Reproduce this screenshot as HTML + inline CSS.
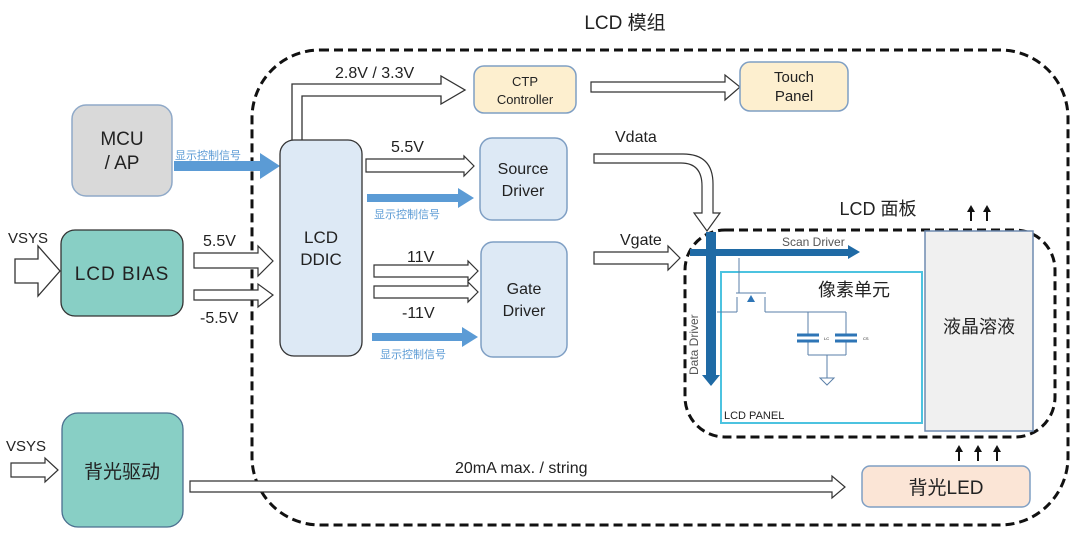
<!DOCTYPE html>
<html><head><meta charset="utf-8"><style>
html,body{margin:0;padding:0;background:#fff;}
svg{display:block;}
text{font-family:"Liberation Sans","Noto Sans CJK SC",sans-serif;fill:#222;}
</style></head><body>
<svg width="1080" height="538" viewBox="0 0 1080 538" xmlns="http://www.w3.org/2000/svg">
<defs>
<g id="up"><line x1="0" y1="0" x2="0" y2="-12" stroke="#111" stroke-width="2"/><path d="M-4 -9 L0 -16 L4 -9 Z" fill="#111"/></g>
</defs>
<!-- outer dashed -->
<rect x="252" y="50" width="816" height="475" rx="68" fill="none" stroke="#111" stroke-width="3" stroke-dasharray="9,5"/>
<text x="625" y="29" font-size="19" text-anchor="middle">LCD 模组</text>

<!-- MCU -->
<rect x="72" y="105" width="100" height="91" rx="14" fill="#d9d9d9" stroke="#8fa9c8" stroke-width="1.5"/>
<text x="122" y="145" font-size="19" text-anchor="middle">MCU</text>
<text x="122" y="169" font-size="19" text-anchor="middle">/ AP</text>
<text x="175" y="159" font-size="11" style="fill:#5b9bd5">显示控制信号</text>
<path d="M174 161 L260 161 L260 153 L280 166 L260 179 L260 171 L174 171 Z" fill="#5b9bd5"/>

<!-- LCD BIAS -->
<path d="M15 259 L38 259 L38 246 L60 271 L38 296 L38 283 L15 283 Z" fill="#fff" stroke="#333" stroke-width="1.3"/>
<text x="8" y="243" font-size="15">VSYS</text>
<rect x="61" y="230" width="122" height="86" rx="14" fill="#88cfc5" stroke="#333" stroke-width="1.3"/>
<text x="122" y="280" font-size="19" text-anchor="middle" letter-spacing="1">LCD BIAS</text>
<text x="203" y="246" font-size="16">5.5V</text>
<path d="M194 253 L258 253 L258 246 L273 261 L258 276 L258 268 L194 268 Z" fill="#fff" stroke="#333" stroke-width="1.2"/>
<path d="M194 290 L258 290 L258 284 L273 295 L258 307 L258 300 L194 300 Z" fill="#fff" stroke="#333" stroke-width="1.2"/>
<text x="200" y="323" font-size="16">-5.5V</text>

<!-- DDIC -->
<path d="M292 140 L292 84 L441 84 L441 76 L465 90 L441 104 L441 96 L302 96 L302 140" fill="#fff" stroke="#333" stroke-width="1.3"/>
<text x="335" y="78" font-size="16">2.8V / 3.3V</text>
<rect x="280" y="140" width="82" height="216" rx="14" fill="#dde9f5" stroke="#333" stroke-width="1.3"/>
<text x="321" y="243" font-size="17" text-anchor="middle">LCD</text>
<text x="321" y="265" font-size="17" text-anchor="middle">DDIC</text>

<!-- CTP / Touch -->
<rect x="474" y="66" width="102" height="47" rx="10" fill="#fdefcf" stroke="#7f9fc4" stroke-width="1.5"/>
<text x="525" y="86" font-size="13" text-anchor="middle">CTP</text>
<text x="525" y="104" font-size="13" text-anchor="middle">Controller</text>
<path d="M591 82 L725 82 L725 75 L740 87 L725 100 L725 92 L591 92 Z" fill="#fff" stroke="#333" stroke-width="1.2"/>
<rect x="740" y="62" width="108" height="49" rx="10" fill="#fdefcf" stroke="#7f9fc4" stroke-width="1.5"/>
<text x="794" y="82" font-size="15" text-anchor="middle">Touch</text>
<text x="794" y="101" font-size="15" text-anchor="middle">Panel</text>

<!-- Source -->
<text x="391" y="152" font-size="16">5.5V</text>
<path d="M366 159 L464 159 L464 156 L474 166 L464 176 L464 172 L366 172 Z" fill="#fff" stroke="#333" stroke-width="1.2"/>
<path d="M367 194 L458 194 L458 188 L474 198 L458 208 L458 202 L367 202 Z" fill="#5b9bd5"/>
<text x="374" y="218" font-size="11" style="fill:#5b9bd5">显示控制信号</text>
<rect x="480" y="138" width="87" height="82" rx="12" fill="#dde9f5" stroke="#7f9fc4" stroke-width="1.5"/>
<text x="523" y="174" font-size="16" text-anchor="middle">Source</text>
<text x="523" y="196" font-size="16" text-anchor="middle">Driver</text>

<!-- Gate -->
<text x="407" y="262" font-size="16">11V</text>
<path d="M374 265 L468 265 L468 261 L478 271 L468 281 L468 277 L374 277 Z" fill="#fff" stroke="#333" stroke-width="1.2"/>
<path d="M374 286 L468 286 L468 282 L478 292 L468 302 L468 298 L374 298 Z" fill="#fff" stroke="#333" stroke-width="1.2"/>
<text x="402" y="318" font-size="16">-11V</text>
<path d="M372 333 L462 333 L462 327 L478 337 L462 347 L462 341 L372 341 Z" fill="#5b9bd5"/>
<text x="380" y="358" font-size="11" style="fill:#5b9bd5">显示控制信号</text>
<rect x="481" y="242" width="86" height="115" rx="12" fill="#dde9f5" stroke="#7f9fc4" stroke-width="1.5"/>
<text x="524" y="294" font-size="16" text-anchor="middle">Gate</text>
<text x="524" y="316" font-size="16" text-anchor="middle">Driver</text>

<!-- Vdata / Vgate -->
<text x="615" y="142" font-size="16">Vdata</text>
<path d="M594 154 L683 154 Q713 154 713 184 L713 213 L720 213 L707 231 L694 213 L702 213 L702 186 Q702 163 681 163 L594 163 Z" fill="#fff" stroke="#333" stroke-width="1.2"/>
<text x="620" y="245" font-size="16">Vgate</text>
<path d="M594 252 L668 252 L668 246 L680 258 L668 270 L668 264 L594 264 Z" fill="#fff" stroke="#333" stroke-width="1.2"/>

<!-- LCD panel -->
<rect x="685" y="230" width="370" height="207" rx="40" fill="none" stroke="#111" stroke-width="3" stroke-dasharray="9,5"/>
<text x="878" y="215" font-size="18" text-anchor="middle">LCD 面板</text>
<rect x="721" y="272" width="201" height="151" fill="#fff" stroke="#4cc3e0" stroke-width="2"/>
<text x="724" y="419" font-size="11" fill="#333">LCD PANEL</text>
<text x="818" y="296" font-size="18">像素单元</text>
<g stroke="#5a7fa8" stroke-width="1" fill="none">
<line x1="739" y1="258" x2="739" y2="293"/>
<line x1="736" y1="293" x2="766" y2="293"/>
<line x1="737" y1="297" x2="737" y2="312"/><line x1="765" y1="297" x2="765" y2="312"/>
<line x1="717" y1="312" x2="737" y2="312"/>
<line x1="765" y1="312" x2="846" y2="312"/>
<line x1="808" y1="312" x2="808" y2="335"/><line x1="846" y1="312" x2="846" y2="335"/>
<line x1="808" y1="341" x2="808" y2="355"/><line x1="846" y1="341" x2="846" y2="355"/>
<line x1="808" y1="355" x2="846" y2="355"/>
<line x1="827" y1="355" x2="827" y2="378"/>
<path d="M820 378 L834 378 L827 385 Z"/>
</g>
<g stroke="#2e75b6" stroke-width="3"><line x1="797" y1="335" x2="819" y2="335"/><line x1="797" y1="341" x2="819" y2="341"/><line x1="835" y1="335" x2="857" y2="335"/><line x1="835" y1="341" x2="857" y2="341"/></g>
<path d="M747 302 L751 295 L755 302 Z" fill="#2e75b6"/>
<text x="824" y="340" font-size="4" fill="#555">LC</text><text x="863" y="340" font-size="4" fill="#555">CS</text>
<path d="M690 249 L848 249 L848 245 L860 252 L848 259 L848 256 L690 256 Z" fill="#1f6aa5"/>
<path d="M706 232 L716 232 L716 375 L720 375 L711 386 L702 375 L706 375 Z" fill="#1f6aa5"/>
<text x="782" y="246" font-size="12" style="fill:#555">Scan Driver</text>
<text transform="translate(698,375) rotate(-90)" font-size="12" style="fill:#555">Data Driver</text>

<rect x="925" y="231" width="108" height="200" fill="#f0f0f0" stroke="#6f8bb0" stroke-width="1.5"/>
<text x="979" y="333" font-size="18" text-anchor="middle">液晶溶液</text>
<use href="#up" x="971" y="221"/><use href="#up" x="987" y="221"/>
<use href="#up" x="959" y="461"/><use href="#up" x="978" y="461"/><use href="#up" x="997" y="461"/>

<!-- backlight -->
<text x="6" y="451" font-size="15">VSYS</text>
<path d="M11 463 L45 463 L45 458 L58 470 L45 482 L45 477 L11 477 Z" fill="#fff" stroke="#333" stroke-width="1.2"/>
<rect x="62" y="413" width="121" height="114" rx="16" fill="#88cfc5" stroke="#4a6f8f" stroke-width="1.3"/>
<text x="122" y="478" font-size="19" text-anchor="middle">背光驱动</text>
<text x="455" y="473" font-size="16">20mA max. / string</text>
<path d="M190 481 L832 481 L832 476 L845 487 L832 498 L832 492 L190 492 Z" fill="#fff" stroke="#333" stroke-width="1.2"/>
<rect x="862" y="466" width="168" height="41" rx="8" fill="#fbe5d6" stroke="#7f9fc4" stroke-width="1.5"/>
<text x="946" y="494" font-size="19" text-anchor="middle">背光LED</text>
</svg>
</body></html>
